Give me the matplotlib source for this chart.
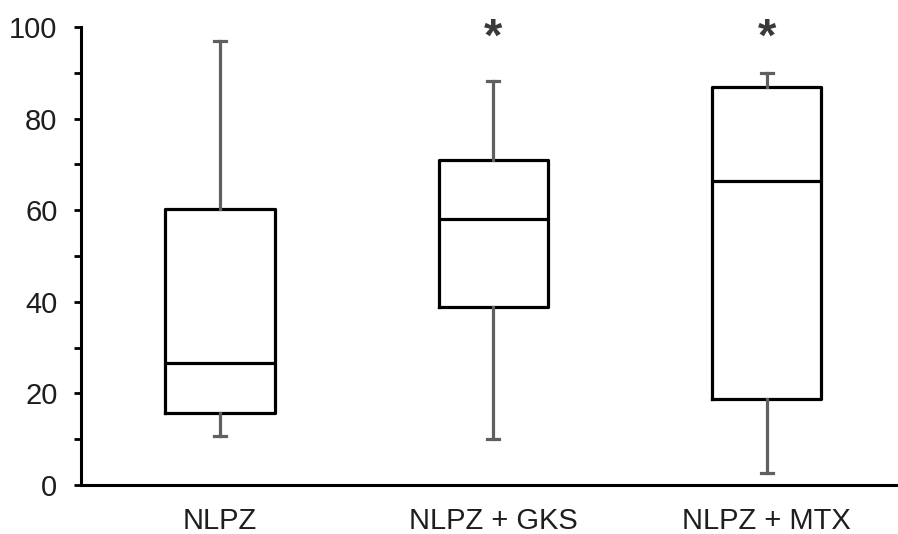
import matplotlib.pyplot as plt

# data
groups = ['NLPZ', 'NLPZ + GKS', 'NLPZ + MTX']
whisk_lo = [10.7, 10.0, 2.7]
q1 = [15.8, 38.8, 18.7]
median = [26.6, 58.0, 66.4]
q3 = [60.2, 71.0, 87.0]
whisk_hi = [97.0, 88.2, 89.9]
signif = ['', '*', '*']

plt.rcParams['font.family'] = ['Liberation Sans', 'DejaVu Sans']

fig = plt.figure(figsize=(8.98, 5.34), dpi=100)
ax = fig.add_axes([81 / 898, 1 - 485 / 534, 1 - 81 / 898, (485 - 27) / 534])

stats = []
for i, g in enumerate(groups):
    stats.append({'label': g, 'whislo': whisk_lo[i], 'q1': q1[i], 'med': median[i],
                  'q3': q3[i], 'whishi': whisk_hi[i], 'fliers': []})

gray = '#5e6062'
ax.bxp(stats, positions=range(len(groups)), widths=0.40, capwidths=0.045,
       showfliers=False, patch_artist=False,
       boxprops=dict(color='black', linewidth=2.3),
       medianprops=dict(color='black', linewidth=2.3),
       whiskerprops=dict(color=gray, linewidth=2.3),
       capprops=dict(color=gray, linewidth=2.3))

# significance marks
for i, s in enumerate(signif):
    if s:
        ax.text(i, 94.8, s, ha='center', va='baseline', fontsize=34,
                fontweight='bold', color='#3a3a3a', clip_on=False)

ax.set_ylim(0, 100)
ax.set_xlim(-0.508, 2.48)
ax.set_yticks([0, 20, 40, 60, 80, 100])
ax.set_yticks([10, 30, 50, 70, 90], minor=True)
ax.tick_params(axis='y', which='both', direction='out', length=5, width=2,
               labelsize=21, pad=12, labelcolor='#1e1e1e')
ax.tick_params(axis='x', length=0, labelsize=21, pad=16, labelcolor='#1e1e1e')
ax.set_xticks(range(len(groups)))
ax.set_xticklabels(groups)

for side in ['top', 'right']:
    ax.spines[side].set_visible(False)
for side in ['left', 'bottom']:
    ax.spines[side].set_linewidth(2.2)
    ax.spines[side].set_color('black')

fig.savefig('out.png', dpi=100)
